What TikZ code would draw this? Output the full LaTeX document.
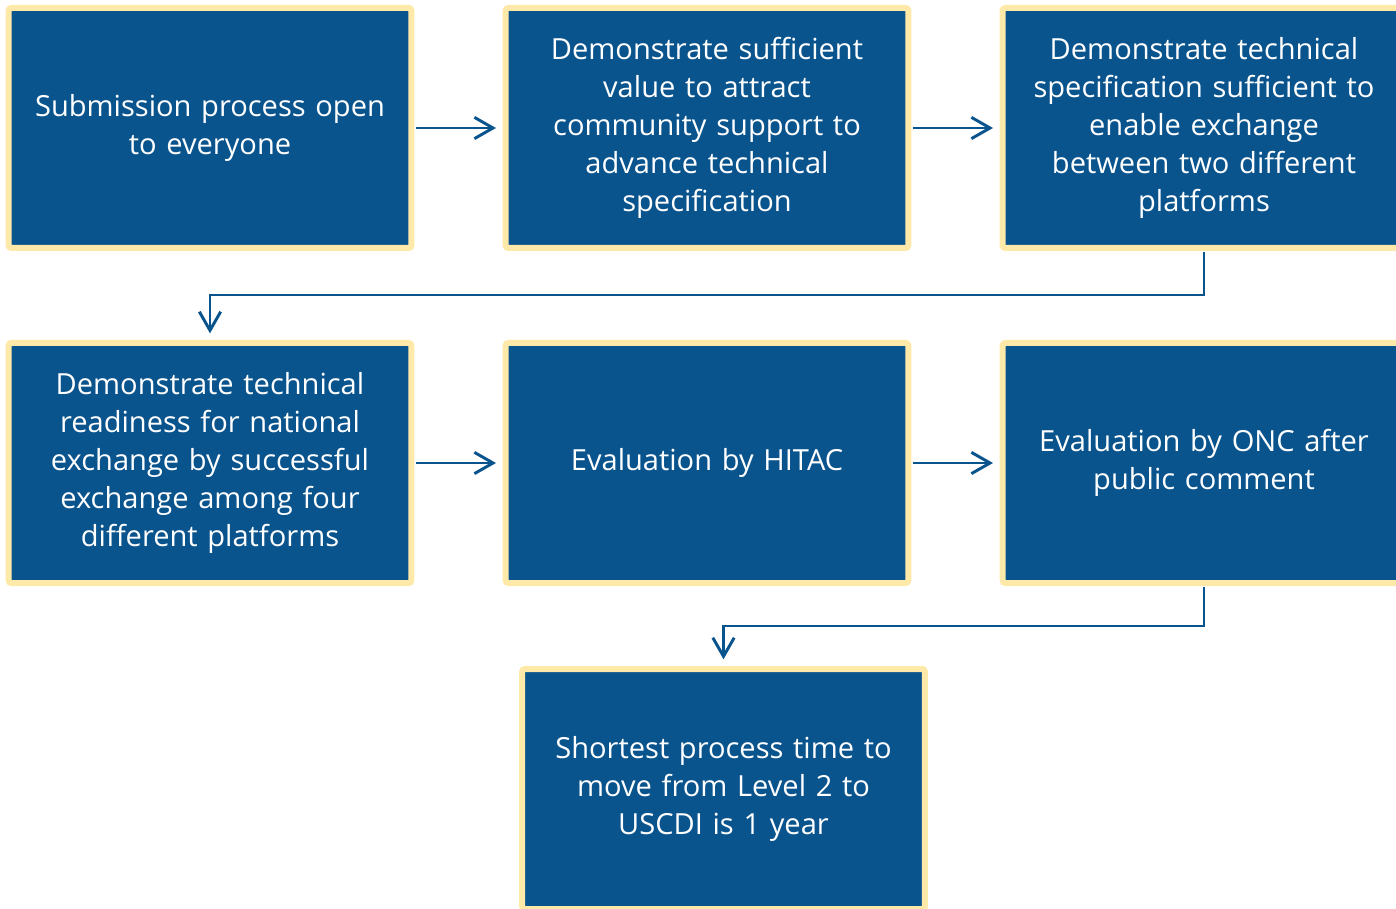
\documentclass[tikz,border=0pt]{standalone}
\usepackage{fontspec}
\setmainfont{Open Sans}
\usetikzlibrary{arrows.meta}
\definecolor{boxblue}{RGB}{10,84,142}
\definecolor{boxedge}{RGB}{255,233,168}
\tikzset{
  stepbox/.style={draw=boxedge, line width=4.5pt, fill=boxblue, rounded corners=2pt,
    minimum width=302pt, minimum height=180pt, text width=290pt, align=center,
    text=white, font=\fontsize{21.8}{28.5}\selectfont, inner sep=0pt},
  flow/.style={draw=boxblue, line width=2.2pt, -{Straight Barb[length=14pt,width=16pt,line width=2.2pt]},
    shorten <=1pt, shorten >=5pt}
}
\begin{document}
\begin{tikzpicture}[x=0.75pt,y=-0.75pt]
        \useasboundingbox (0,0) rectangle (1396,909);
        \clip (0,0) rectangle (1396,909);
        \node [stepbox] (sub) at (210,128) {Submission process open\\to everyone};
        \node [stepbox] (val) at (707,128) {Demonstrate sufficient\\value to attract\\community support to\\advance technical\\specification};
        \node [stepbox] (spec) at (1204,128) {Demonstrate technical\\specification sufficient to\\enable exchange\\between two different\\platforms};
        \node [stepbox] (ready) at (210,463) {Demonstrate technical\\readiness for national\\exchange by successful\\exchange among four\\different platforms};
        \node [stepbox] (hitac) at (707,463) {Evaluation by HITAC};
        \node [stepbox] (onc) at (1204,463) {Evaluation by ONC after\\public comment};
        \node [stepbox] (time) at (723.5,789) {Shortest process time to\\move from Level 2 to\\USCDI is 1 year};
        \draw[flow] (sub) -- (val);
        \draw[flow] (val) -- (spec);
        \draw[flow] (spec.south) -- ++(0,44) -| (ready.north);
        \draw[flow] (ready) -- (hitac);
        \draw[flow] (hitac) -- (onc);
        \draw[flow] (onc.south) -- ++(0,40) -| (time.north);
    \end{tikzpicture}
\end{document}
